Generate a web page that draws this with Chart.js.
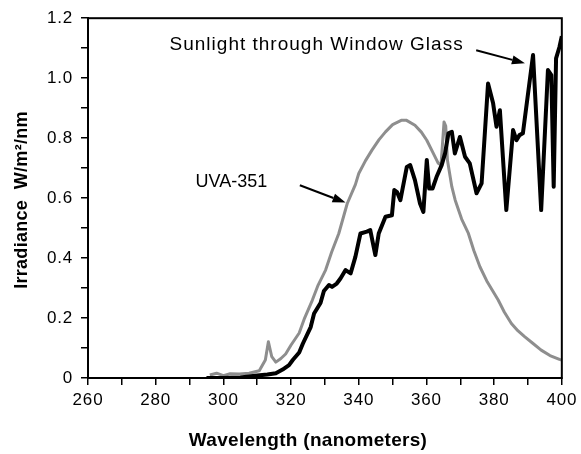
<!DOCTYPE html>
<html>
<head>
<meta charset="utf-8">
<script src="https://cdn.jsdelivr.net/npm/chart.js@4"></script>
<style>
  body { margin: 0; background: #fff; }
  #wrap { width: 581px; height: 454px; }
</style>
</head>
<body>
<div id="wrap"><canvas id="chart" width="581" height="454"></canvas></div>
<script>
// ── data ──
const glassWavelength = [295, 300, 305, 310, 313, 315.5, 317.5, 319.4, 320.5, 322.4, 323.5, 325.8, 326.8, 328.7, 329.7,
  331.2, 332.1, 333.5, 334.6, 336.1, 337.6, 339, 340.5, 342.4, 343.4, 344.9, 345.9, 347.9, 349.8, 350.5, 351.3, 352.3,
  354.2, 355.2, 356.6, 358.1, 359.1, 360.1, 360.8, 361.8, 363, 364.5, 365.5, 366.5, 367.5, 368.4, 369.9, 371.4, 372.8,
  374.8, 376.3, 378.2, 379.7, 380.7, 381.7, 383.6, 385.6, 386.6, 387.5, 388.5, 391.5, 393.9, 395.9, 396.9, 397.6,
  398.3, 399.3, 400];
const glassIrradiance = [0, 0, 0.002, 0.008, 0.012, 0.016, 0.028, 0.043, 0.06, 0.085, 0.115, 0.17, 0.215, 0.25, 0.29,
  0.31, 0.304, 0.315, 0.332, 0.36, 0.349, 0.404, 0.482, 0.488, 0.493, 0.41, 0.482, 0.538, 0.543, 0.627, 0.62, 0.593,
  0.704, 0.71, 0.66, 0.582, 0.554, 0.727, 0.632, 0.632, 0.671, 0.71, 0.749, 0.816, 0.821, 0.749, 0.804, 0.738, 0.716,
  0.616, 0.649, 0.982, 0.916, 0.838, 0.893, 0.56, 0.827, 0.793, 0.81, 0.816, 1.077, 0.56, 1.027, 1.01, 0.638,
  1.066, 1.104, 1.14];

const uvaWavelength = [296, 298, 300, 302, 304.7, 307.6, 310.6, 312.4, 313.3, 314.3, 315.5, 317, 318.4, 320, 322.4, 324,
  326.3, 328, 330.2, 332, 334.1, 336.6, 339, 340, 342, 343.9, 346, 347.9, 350, 352.7, 354, 356.6, 358.5, 360.1, 362,
  363.5, 364.3, 365.2, 365.7, 366.2, 367.5, 368.5, 370.4, 372.4, 374, 375.8, 378, 381.2, 383, 385.1, 387, 389, 391.5,
  393.9, 396.5, 399.3, 400];
const uvaIrradiance = [0.01, 0.016, 0.008, 0.014, 0.013, 0.016, 0.024, 0.06, 0.121, 0.071, 0.053, 0.065, 0.08, 0.11,
  0.15, 0.2, 0.26, 0.31, 0.36, 0.42, 0.482, 0.582, 0.645, 0.682, 0.725, 0.76, 0.795, 0.821, 0.845, 0.86, 0.86, 0.843,
  0.82, 0.793, 0.75, 0.716, 0.71, 0.854, 0.84, 0.727, 0.638, 0.593, 0.53, 0.482, 0.425, 0.371, 0.32, 0.26, 0.22, 0.182,
  0.158, 0.138, 0.115, 0.093, 0.075, 0.062, 0.06];

const xTickValues = [260, 270, 280, 290, 300, 310, 320, 330, 340, 350, 360, 370, 380, 390, 400];
const yTickValues = [0, 0.1, 0.2, 0.3, 0.4, 0.5, 0.6, 0.7, 0.8, 0.9, 1.0, 1.1, 1.2];

// annotations: text anchor and arrow tail/head in data units
const notes = [
  { text: 'Sunlight through Window Glass', at: [284.1, 1.11], size: 19, spacing: 1, arrow: [[374.7, 1.093], [389.1, 1.05]] },
  { text: 'UVA-351', at: [291.8, 0.653], size: 18, spacing: 0, arrow: [[322.6, 0.643], [336.1, 0.585]] },
];

const toPoints = (xs, ys) => xs.map((x, i) => ({ x, y: ys[i] }));

const FONT = '"Liberation Sans", Arial, sans-serif';

// draws frame, annotations and axis titles
const decorations = {
  id: 'decorations',
  beforeDraw(chart) {
    chart.ctx.letterSpacing = '0.8px';
  },
  afterDraw(chart) {
    const { ctx, chartArea: a, scales: { x, y } } = chart;
    ctx.save();
    ctx.strokeStyle = '#000';
    ctx.lineWidth = 2;
    ctx.strokeRect(a.left, a.top, a.right - a.left, a.bottom - a.top);

    ctx.fillStyle = '#000';
    ctx.textBaseline = 'middle';
    notes.forEach(n => {
      ctx.font = `${n.size}px ${FONT}`;
      ctx.letterSpacing = n.spacing + 'px';
      ctx.textAlign = 'left';
      ctx.fillText(n.text, x.getPixelForValue(n.at[0]), y.getPixelForValue(n.at[1]));

      const x0 = x.getPixelForValue(n.arrow[0][0]), y0 = y.getPixelForValue(n.arrow[0][1]);
      const x1 = x.getPixelForValue(n.arrow[1][0]), y1 = y.getPixelForValue(n.arrow[1][1]);
      const ang = Math.atan2(y1 - y0, x1 - x0);
      const len = 13, half = 4.5;
      const bx = x1 - len * Math.cos(ang), by = y1 - len * Math.sin(ang);
      ctx.lineWidth = 2;
      ctx.beginPath();
      ctx.moveTo(x0, y0);
      ctx.lineTo(bx, by);
      ctx.stroke();
      ctx.beginPath();
      ctx.moveTo(x1, y1);
      ctx.lineTo(bx + half * Math.sin(ang), by - half * Math.cos(ang));
      ctx.lineTo(bx - half * Math.sin(ang), by + half * Math.cos(ang));
      ctx.closePath();
      ctx.fill();
    });

    // axis titles
    ctx.font = `bold 19px ${FONT}`;
    ctx.letterSpacing = '0.3px';
    ctx.textAlign = 'center';
    ctx.fillText('Wavelength (nanometers)', 308, 441);
    ctx.translate(22, 200);
    ctx.rotate(-Math.PI / 2);
    ctx.font = `bold 18px ${FONT}`;
    ctx.fillText('Irradiance  W/m²/nm', 0, 0);
    ctx.restore();
  }
};

const tickGrid = { drawOnChartArea: false, drawTicks: true, tickLength: 7, color: '#000', lineWidth: 1.5 };

new Chart(document.getElementById('chart'), {
  type: 'line',
  data: {
    datasets: [
      {
        data: toPoints(glassWavelength, glassIrradiance),
        borderColor: '#000', borderWidth: 4, pointRadius: 0, tension: 0, borderJoinStyle: 'round',
      },
      {
        data: toPoints(uvaWavelength, uvaIrradiance),
        borderColor: '#8e8e8e', borderWidth: 3, pointRadius: 0, tension: 0, borderJoinStyle: 'round',
      },
      {
        data: toPoints(uvaWavelength, uvaIrradiance),
        borderColor: '#d6d6d6', borderWidth: 1.3, pointRadius: 0, tension: 0, borderJoinStyle: 'round',
      },
    ]
  },
  options: {
    responsive: false,
    animation: false,
    events: [],
    layout: { padding: { left: 0, top: 18, right: 17, bottom: 0 } },
    plugins: { legend: { display: false }, tooltip: { enabled: false } },
    scales: {
      x: {
        type: 'linear', min: 260, max: 400,
        afterFit: s => { s.height = 76; },
        afterBuildTicks: s => { s.ticks = xTickValues.map(value => ({ value })); },
        grid: tickGrid,
        border: { display: true, color: '#000', width: 2 },
        ticks: {
          autoSkip: false, maxRotation: 0, padding: 5, color: '#000',
          font: { family: FONT, size: 17 },
          callback: v => (v % 20 === 0 ? String(v) : ''),
        },
      },
      y: {
        type: 'linear', min: 0, max: 1.2,
        afterFit: s => { s.width = 88; },
        afterBuildTicks: s => { s.ticks = yTickValues.map(value => ({ value })); },
        grid: tickGrid,
        border: { display: true, color: '#000', width: 2 },
        ticks: {
          autoSkip: false, padding: 8, color: '#000',
          font: { family: FONT, size: 17 },
          callback: v => {
            const tenths = Math.round(v * 10);
            if (tenths % 2) return '';
            return tenths === 0 ? '0' : (tenths / 10).toFixed(1);
          },
        },
      },
    },
  },
  plugins: [decorations],
});
</script>
</body>
</html>
